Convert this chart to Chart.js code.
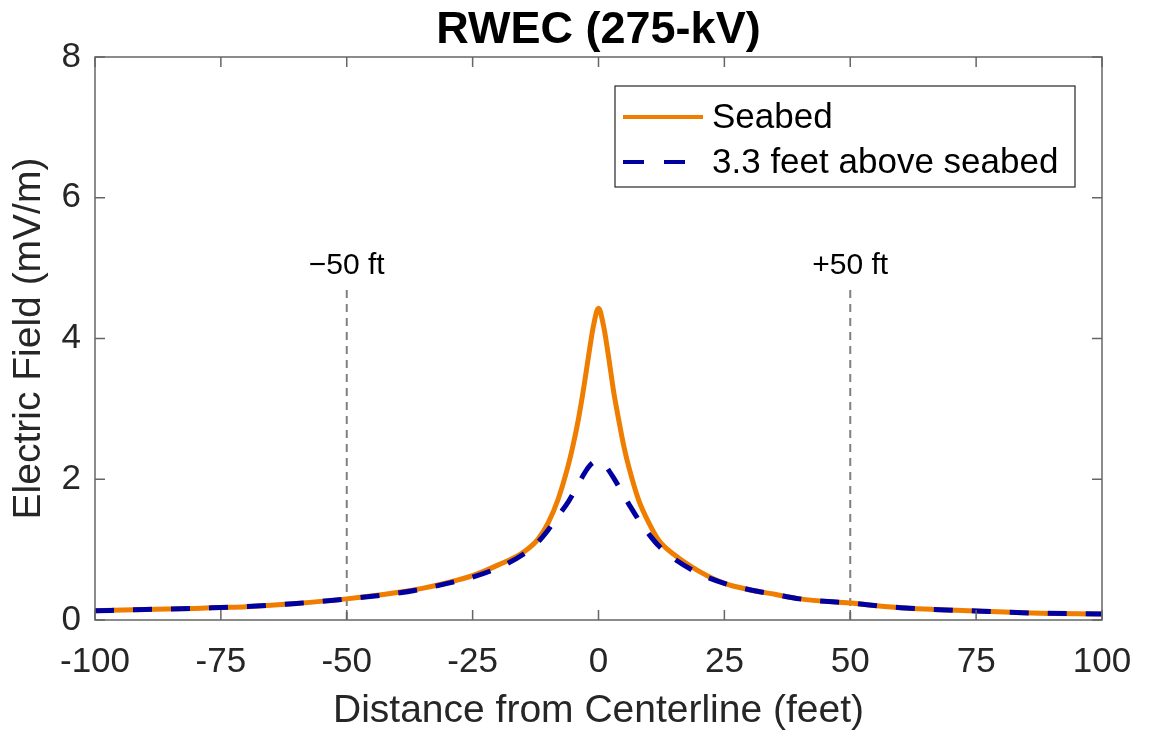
<!DOCTYPE html>
<html>
<head>
<meta charset="utf-8">
<script src="https://cdn.jsdelivr.net/npm/chart.js@4.4.0/dist/chart.umd.min.js"></script>
<style>
  html, body { margin: 0; padding: 0; background: #fff; }
  #wrap { width: 1149px; height: 738px; }
</style>
</head>
<body>
<div id="wrap"><canvas id="efChart"></canvas></div>
<script>
// values
var distance = [-100, -90, -80, -75, -70, -60, -50, -40, -35, -30, -25, -20, -15, -12, -10, -8, -6, -5, -4, -3, -2, -1, 0,
                1, 2, 3, 4, 5, 6, 8, 10, 12, 15, 20, 25, 30, 35, 40, 50, 60, 75, 86, 100];
var seabed = [0.13, 0.15, 0.165, 0.178, 0.19, 0.235, 0.30, 0.39, 0.45, 0.53, 0.63, 0.78, 0.96, 1.15, 1.38, 1.72, 2.20, 2.50, 2.85, 3.27, 3.74, 4.18, 4.43,
              4.18, 3.74, 3.25, 2.85, 2.48, 2.18, 1.70, 1.38, 1.13, 0.93, 0.69, 0.52, 0.43, 0.365, 0.30, 0.24, 0.175, 0.128, 0.10, 0.085];
var aboveSeabed = [0.13, 0.15, 0.165, 0.178, 0.19, 0.235, 0.30, 0.38, 0.44, 0.52, 0.61, 0.74, 0.93, 1.11, 1.28, 1.48, 1.68, 1.80, 1.93, 2.06, 2.17, 2.24, 2.25,
                   2.22, 2.13, 2.02, 1.90, 1.77, 1.65, 1.42, 1.22, 1.05, 0.87, 0.66, 0.52, 0.43, 0.365, 0.30, 0.24, 0.175, 0.128, 0.10, 0.085];
var seriesNames = ['Seabed', '3.3 feet above seabed'];
var xTicks = [-100, -75, -50, -25, 0, 25, 50, 75, 100];
var yTicks = [0, 2, 4, 6, 8];
var markerX = [-50, 50];
var markerLabels = ['\u221250 ft', '+50 ft'];
var markerTop = 4.7;
var markerLabelY = 5.03;

var orange = '#EE7D00';
var navy = '#0000A0';
var axisGrey = '#666666';
var tickColor = '#262626';
var fontFamily = '"Liberation Sans", Arial, sans-serif';

function toPoints(xs, ys) {
  var pts = [];
  for (var i in xs) {
    pts.push({x: xs[i], y: ys[i]});
  }
  return pts;
}

var datasets = [
  {
    label: seriesNames[0],
    data: toPoints(distance, seabed),
    borderColor: orange,
    borderWidth: 5,
    pointRadius: 0,
    cubicInterpolationMode: 'monotone',
    order: 2
  },
  {
    label: seriesNames[1],
    data: toPoints(distance, aboveSeabed),
    borderColor: navy,
    borderWidth: 5,
    borderDash: [19, 19],
    pointRadius: 0,
    cubicInterpolationMode: 'monotone',
    order: 1
  }
];

// grey dashed markers at +/-50 ft
for (var m in markerX) {
  datasets.push({
    label: 'marker' + m,
    data: [{x: markerX[m], y: 0}, {x: markerX[m], y: markerTop}],
    borderColor: '#808080',
    borderWidth: 2,
    borderDash: [8, 6],
    pointRadius: 0,
    order: 3
  });
}

// box round the axes with inward ticks, title, marker labels, legend
var decorations = {
  id: 'decorations',
  afterDraw: function(chart) {
    var ctx = chart.ctx;
    var a = chart.chartArea;
    var x = chart.scales.x;
    var y = chart.scales.y;
    ctx.save();

    ctx.strokeStyle = axisGrey;
    ctx.lineWidth = 1.5;
    ctx.strokeRect(a.left, a.top, a.right - a.left, a.bottom - a.top);
    ctx.beginPath();
    xTicks.forEach(function(v) {
      var px = x.getPixelForValue(v);
      ctx.moveTo(px, a.bottom); ctx.lineTo(px, a.bottom - 10);
      ctx.moveTo(px, a.top); ctx.lineTo(px, a.top + 10);
    });
    yTicks.forEach(function(v) {
      var py = y.getPixelForValue(v);
      ctx.moveTo(a.left, py); ctx.lineTo(a.left + 10, py);
      ctx.moveTo(a.right, py); ctx.lineTo(a.right - 10, py);
    });
    ctx.stroke();

    // title
    ctx.fillStyle = '#000';
    ctx.font = 'bold 45px ' + fontFamily;
    ctx.textAlign = 'center';
    ctx.textBaseline = 'middle';
    ctx.fillText('RWEC (275-kV)', (a.left + a.right) / 2, 31);

    // marker labels
    ctx.font = '30px ' + fontFamily;
    for (var i in markerX) {
      ctx.fillText(markerLabels[i], x.getPixelForValue(markerX[i]), y.getPixelForValue(markerLabelY));
    }

    // legend
    var bw = 460, bh = 101;
    var bx = a.right - 27 - bw, by = a.top + 29;
    ctx.fillStyle = '#fff';
    ctx.fillRect(bx, by, bw, bh);
    ctx.strokeStyle = '#262626';
    ctx.lineWidth = 1.2;
    ctx.strokeRect(bx, by, bw, bh);
    var rows = [by + 31, by + 76];
    var dsets = [datasets[0], datasets[1]];
    ctx.font = '35px ' + fontFamily;
    ctx.textAlign = 'left';
    dsets.forEach(function(ds, k) {
      ctx.beginPath();
      ctx.strokeStyle = ds.borderColor;
      ctx.lineWidth = 4;
      ctx.setLineDash(ds.borderDash ? [21, 20] : []);
      ctx.moveTo(bx + 8, rows[k]);
      ctx.lineTo(bx + 88, rows[k]);
      ctx.stroke();
      ctx.setLineDash([]);
      ctx.fillStyle = '#000';
      ctx.fillText(ds.label, bx + 97, rows[k] + 1);
    });
    ctx.restore();
  }
};

var ctx = document.getElementById('efChart');
var efChart = new Chart(ctx, {
  type: 'line',
  data: { datasets: datasets },
  options: {
    responsive: true,
    maintainAspectRatio: false,
    animation: false,
    layout: { padding: { top: 57, right: 47, left: 0, bottom: 0 } },
    plugins: {
      legend: { display: false },
      tooltip: { enabled: false },
      title: { display: false }
    },
    scales: {
      x: {
        type: 'linear',
        min: -100,
        max: 100,
        afterBuildTicks: function(s) { s.ticks = xTicks.map(function(v) { return {value: v}; }); },
        afterFit: function(s) { s.height = 118; s.paddingLeft = 0; s.paddingRight = 0; },
        grid: { display: false, drawTicks: false },
        border: { display: false },
        ticks: {
          color: tickColor,
          padding: 21,
          maxRotation: 0,
          font: { family: fontFamily, size: 35 },
          callback: function(v) { return String(v); }
        },
        title: {
          display: true,
          text: 'Distance from Centerline (feet)',
          color: tickColor,
          padding: { top: 4, bottom: 3 },
          font: { family: fontFamily, size: 39 }
        }
      },
      y: {
        min: 0,
        max: 8,
        afterBuildTicks: function(s) { s.ticks = yTicks.map(function(v) { return {value: v}; }); },
        afterFit: function(s) { s.width = 95; s.paddingTop = 0; s.paddingBottom = 0; },
        grid: { display: false, drawTicks: false },
        border: { display: false },
        ticks: {
          color: tickColor,
          padding: 14,
          font: { family: fontFamily, size: 35 }
        },
        title: {
          display: true,
          text: 'Electric Field (mV/m)',
          color: tickColor,
          padding: { top: 6, bottom: 0 },
          font: { family: fontFamily, size: 39 }
        }
      }
    }
  },
  plugins: [decorations]
});
</script>
</body>
</html>
